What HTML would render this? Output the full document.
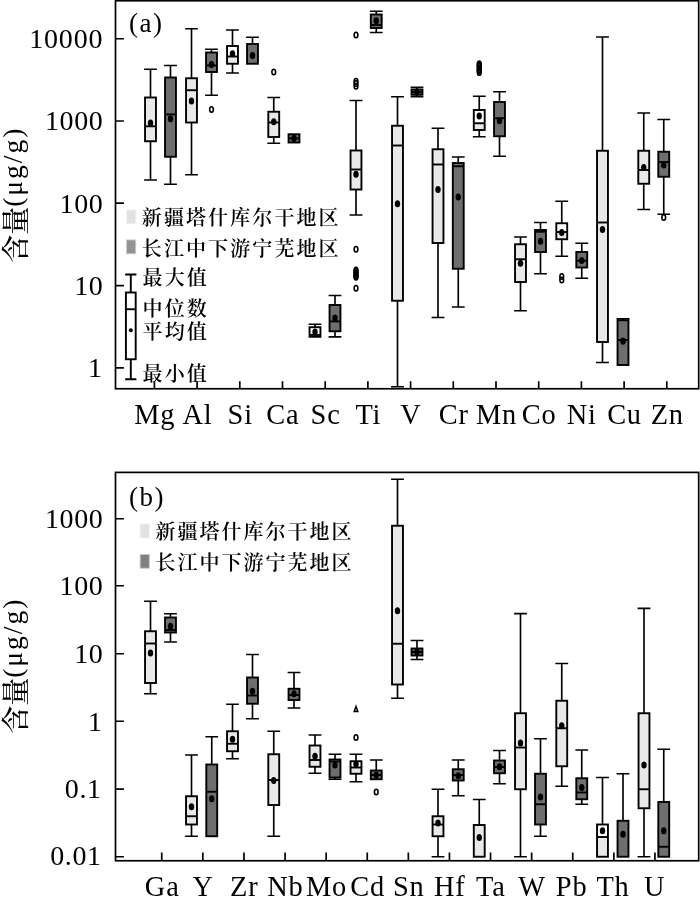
<!DOCTYPE html>
<html lang="zh"><head><meta charset="utf-8"><title>chart</title>
<style>
html,body{margin:0;padding:0;background:#fff}
svg{display:block}
text{font-family:"Liberation Serif","Noto Serif CJK SC",serif;fill:#000}
.w{stroke-width:1.65px}
.f{stroke-width:1.7px}
</style></head><body>
<svg width="700" height="904" viewBox="0 0 700 904">
<rect width="700" height="904" fill="#fff"/>
<g fill="none" stroke="#000" stroke-width="1.9">
<rect class="f" x="115.5" y="0.75" width="583.20" height="388.00"/>
<rect class="f" x="115.5" y="472.4" width="583.20" height="388.35"/>
<path class="f" d="M115.5 38.75h8.4M115.5 121h8.4M115.5 203.2h8.4M115.5 285.7h8.4M115.5 367.9h8.4M115.5 518.75h8.4M115.5 585.75h8.4M115.5 653.75h8.4M115.5 721.25h8.4M115.5 789.1h8.4M115.5 856.75h8.4"/>
<path class="f" d="M154.40 388.75v-7.6M197.10 388.75v-7.6M239.80 388.75v-7.6M282.50 388.75v-7.6M325.20 388.75v-7.6M367.90 388.75v-7.6M410.60 388.75v-7.6M453.30 388.75v-7.6M496.00 388.75v-7.6M538.70 388.75v-7.6M581.40 388.75v-7.6M624.10 388.75v-7.6M666.80 388.75v-7.6M161.75 860.75v-8.2M202.85 860.75v-8.2M243.95 860.75v-8.2M285.05 860.75v-8.2M326.15 860.75v-8.2M367.25 860.75v-8.2M408.35 860.75v-8.2M449.45 860.75v-8.2M490.55 860.75v-8.2M531.65 860.75v-8.2M572.75 860.75v-8.2M613.85 860.75v-8.2M654.95 860.75v-8.2"/>
<!-- chart a boxes -->
<path class="w" d="M144.10 69.25H156.90M150.5 69.25V97.5"/>
<path class="w" d="M144.10 180H156.90M150.5 180V141.25"/>
<rect x="145.05" y="97.5" width="10.9" height="43.75" fill="#e8e8e8"/>
<path d="M145.05 126.3H155.95"/>
<ellipse cx="150.5" cy="123" rx="2.7" ry="3.6" fill="#000" stroke="none"/>
<path class="w" d="M164.10 65.5H176.90M170.5 65.5V77.5"/>
<path class="w" d="M164.10 184.25H176.90M170.5 184.25V156.75"/>
<rect x="165.05" y="77.5" width="10.9" height="79.25" fill="#6e6e6e"/>
<path d="M165.05 114.4H175.95"/>
<ellipse cx="170.5" cy="118.75" rx="2.7" ry="3.6" fill="#000" stroke="none"/>
<path class="w" d="M185.10 28.75H197.90M191.5 28.75V78.25"/>
<path class="w" d="M185.10 174.75H197.90M191.5 174.75V122.5"/>
<rect x="186.05" y="78.25" width="10.9" height="44.25" fill="#e8e8e8"/>
<path d="M186.05 90.2H196.95"/>
<ellipse cx="191.5" cy="101" rx="2.7" ry="3.6" fill="#000" stroke="none"/>
<path class="w" d="M205.10 49.25H217.90M211.5 49.25V52.5"/>
<path class="w" d="M205.10 95.25H217.90M211.5 95.25V72"/>
<rect x="206.05" y="52.5" width="10.9" height="19.50" fill="#6e6e6e"/>
<path d="M206.05 65.5H216.95"/>
<ellipse cx="211.5" cy="64.5" rx="2.7" ry="3.6" fill="#000" stroke="none"/>
<ellipse cx="211.5" cy="109.5" rx="1.85" ry="2.8" fill="none" stroke-width="1.6"/>
<path class="w" d="M226.10 30H238.90M232.5 30V46"/>
<path class="w" d="M226.10 73H238.90M232.5 73V63.75"/>
<rect x="227.05" y="46" width="10.9" height="17.75" fill="#e8e8e8" stroke="none"/>
<rect x="227.05" y="46" width="10.9" height="10.5" fill="#fff" stroke="none"/>
<rect x="227.05" y="46" width="10.9" height="17.75"/>
<path d="M227.05 56.5H237.95"/>
<ellipse cx="232.5" cy="53.75" rx="2.7" ry="3.6" fill="#000" stroke="none"/>
<path class="w" d="M246.10 37.25H258.90M252.5 37.25V44"/>
<rect x="247.05" y="44" width="10.9" height="19.75" fill="#6e6e6e"/>
<ellipse cx="252.5" cy="55.5" rx="2.7" ry="3.6" fill="#000" stroke="none"/>
<path class="w" d="M267.35 97.5H280.15M273.75 97.5V111.75"/>
<path class="w" d="M267.35 143.25H280.15M273.75 143.25V137"/>
<rect x="268.30" y="111.75" width="10.9" height="25.25" fill="#e8e8e8"/>
<path d="M268.30 122.5H279.20"/>
<ellipse cx="273.75" cy="121.75" rx="2.7" ry="3.6" fill="#000" stroke="none"/>
<ellipse cx="273.75" cy="72" rx="1.85" ry="2.8" fill="none" stroke-width="1.6"/>
<rect x="288.55" y="134.25" width="10.9" height="8.25" fill="#6e6e6e"/>
<path d="M288.55 138.4H299.45"/>
<ellipse cx="294" cy="138.4" rx="2.7" ry="3.6" fill="#000" stroke="none"/>
<path class="w" d="M308.60 324.2H321.40M315 324.2V327.2"/>
<path class="w" d="M308.60 336.8H321.40M315 336.8V335"/>
<rect x="309.55" y="327.2" width="10.9" height="7.80" fill="#fff"/>
<ellipse cx="315" cy="332" rx="2.7" ry="3.6" fill="#000" stroke="none"/>
<path class="w" d="M328.60 295.5H341.40M335 295.5V305"/>
<path class="w" d="M328.60 336.9H341.40M335 336.9V331.25"/>
<rect x="329.55" y="305" width="10.9" height="26.25" fill="#6e6e6e"/>
<path d="M329.55 321.4H340.45"/>
<ellipse cx="335" cy="318" rx="2.7" ry="3.6" fill="#000" stroke="none"/>
<path class="w" d="M349.60 100.5H362.40M356 100.5V150.5"/>
<path class="w" d="M349.60 215H362.40M356 215V189.5"/>
<rect x="350.55" y="150.5" width="10.9" height="39.00" fill="#e8e8e8"/>
<path d="M350.55 169.5H361.45"/>
<ellipse cx="356" cy="174.25" rx="2.7" ry="3.6" fill="#000" stroke="none"/>
<ellipse cx="356" cy="35" rx="1.85" ry="2.8" fill="none" stroke-width="1.6"/>
<ellipse cx="356" cy="81.25" rx="1.85" ry="2.8" fill="none" stroke-width="1.6"/>
<ellipse cx="356" cy="83.5" rx="1.85" ry="2.8" fill="none" stroke-width="1.6"/>
<ellipse cx="356" cy="86.25" rx="1.85" ry="2.8" fill="none" stroke-width="1.6"/>
<ellipse cx="356" cy="249.25" rx="1.85" ry="2.8" fill="none" stroke-width="1.6"/>
<ellipse cx="356" cy="270" rx="1.85" ry="2.8" fill="none" stroke-width="1.6"/>
<ellipse cx="356" cy="271.5" rx="1.85" ry="2.8" fill="none" stroke-width="1.6"/>
<ellipse cx="356" cy="273" rx="1.85" ry="2.8" fill="none" stroke-width="1.6"/>
<ellipse cx="356" cy="274.5" rx="1.85" ry="2.8" fill="none" stroke-width="1.6"/>
<ellipse cx="356" cy="276" rx="1.85" ry="2.8" fill="none" stroke-width="1.6"/>
<ellipse cx="356" cy="277.2" rx="1.85" ry="2.8" fill="none" stroke-width="1.6"/>
<ellipse cx="356" cy="288.25" rx="1.85" ry="2.8" fill="none" stroke-width="1.6"/>
<path class="w" d="M369.85 11.25H382.65M376.25 11.25V14.5"/>
<path class="w" d="M369.85 32.5H382.65M376.25 32.5V28"/>
<rect x="370.80" y="14.5" width="10.9" height="13.50" fill="#6e6e6e"/>
<path d="M370.80 25H381.70"/>
<ellipse cx="376.25" cy="20.75" rx="2.7" ry="3.6" fill="#000" stroke="none"/>
<path class="w" d="M391.10 96.75H403.90M397.5 96.75V125.75"/>
<path class="w" d="M391.10 386.75H403.90M397.5 386.75V300.75"/>
<rect x="392.05" y="125.75" width="10.9" height="175.00" fill="#e8e8e8"/>
<path d="M392.05 145.5H402.95"/>
<ellipse cx="397.5" cy="203.75" rx="2.7" ry="3.6" fill="#000" stroke="none"/>
<path class="w" d="M410.60 87.2H423.40M417 87.2V89.4"/>
<path class="w" d="M410.60 96.7H423.40M417 96.7V94.8"/>
<rect x="411.55" y="89.4" width="10.9" height="5.40" fill="#6e6e6e"/>
<path d="M411.55 92.1H422.45"/>
<ellipse cx="417" cy="92.1" rx="2.7" ry="3.6" fill="#000" stroke="none"/>
<path class="w" d="M431.60 128.25H444.40M438 128.25V149.25"/>
<path class="w" d="M431.60 317.5H444.40M438 317.5V243"/>
<rect x="432.55" y="149.25" width="10.9" height="93.75" fill="#e8e8e8"/>
<path d="M432.55 164.5H443.45"/>
<ellipse cx="438" cy="189.5" rx="2.7" ry="3.6" fill="#000" stroke="none"/>
<path class="w" d="M451.85 157H464.65M458.25 157V163"/>
<path class="w" d="M451.85 307H464.65M458.25 307V268.75"/>
<rect x="452.80" y="163" width="10.9" height="105.75" fill="#6e6e6e"/>
<path d="M452.80 166.25H463.70"/>
<ellipse cx="458.25" cy="197" rx="2.7" ry="3.6" fill="#000" stroke="none"/>
<path class="w" d="M472.85 96.25H485.65M479.25 96.25V110"/>
<path class="w" d="M472.85 136.75H485.65M479.25 136.75V130"/>
<rect x="473.80" y="110" width="10.9" height="20.00" fill="#e8e8e8" stroke="none"/>
<rect x="473.80" y="110" width="10.9" height="13.25" fill="#fff" stroke="none"/>
<rect x="473.80" y="110" width="10.9" height="20.00"/>
<path d="M473.80 123.25H484.70"/>
<ellipse cx="479.25" cy="116" rx="2.7" ry="3.6" fill="#000" stroke="none"/>
<ellipse cx="479.25" cy="63.8" rx="1.85" ry="2.8" fill="none" stroke-width="1.6"/>
<ellipse cx="479.25" cy="65.2" rx="1.85" ry="2.8" fill="none" stroke-width="1.6"/>
<ellipse cx="479.25" cy="66.6" rx="1.85" ry="2.8" fill="none" stroke-width="1.6"/>
<ellipse cx="479.25" cy="68" rx="1.85" ry="2.8" fill="none" stroke-width="1.6"/>
<ellipse cx="479.25" cy="69.4" rx="1.85" ry="2.8" fill="none" stroke-width="1.6"/>
<ellipse cx="479.25" cy="70.8" rx="1.85" ry="2.8" fill="none" stroke-width="1.6"/>
<ellipse cx="479.25" cy="72.4" rx="1.85" ry="2.8" fill="none" stroke-width="1.6"/>
<path class="w" d="M493.10 91.75H505.90M499.5 91.75V102"/>
<path class="w" d="M493.10 156.25H505.90M499.5 156.25V136.25"/>
<rect x="494.05" y="102" width="10.9" height="34.25" fill="#6e6e6e"/>
<path d="M494.05 118.25H504.95"/>
<ellipse cx="499.5" cy="120.75" rx="2.7" ry="3.6" fill="#000" stroke="none"/>
<path class="w" d="M514.10 237H526.90M520.5 237V244.25"/>
<path class="w" d="M514.10 310.75H526.90M520.5 310.75V282"/>
<rect x="515.05" y="244.25" width="10.9" height="37.75" fill="#e8e8e8"/>
<path d="M515.05 259.25H525.95"/>
<ellipse cx="520.5" cy="263.25" rx="2.7" ry="3.6" fill="#000" stroke="none"/>
<path class="w" d="M534.10 222.5H546.90M540.5 222.5V230"/>
<path class="w" d="M534.10 273.75H546.90M540.5 273.75V252"/>
<rect x="535.05" y="230" width="10.9" height="22.00" fill="#6e6e6e"/>
<path d="M535.05 231.75H545.95"/>
<ellipse cx="540.5" cy="241.25" rx="2.7" ry="3.6" fill="#000" stroke="none"/>
<path class="w" d="M555.35 201.25H568.15M561.75 201.25V223.25"/>
<path class="w" d="M555.35 256.25H568.15M561.75 256.25V239.25"/>
<rect x="556.30" y="223.25" width="10.9" height="16.00" fill="#e8e8e8" stroke="none"/>
<rect x="556.30" y="223.25" width="10.9" height="8.75" fill="#fff" stroke="none"/>
<rect x="556.30" y="223.25" width="10.9" height="16.00"/>
<path d="M556.30 232H567.20"/>
<ellipse cx="561.75" cy="232.5" rx="2.7" ry="3.6" fill="#000" stroke="none"/>
<ellipse cx="561.75" cy="276.5" rx="1.85" ry="2.8" fill="none" stroke-width="1.6"/>
<ellipse cx="561.75" cy="280" rx="1.85" ry="2.8" fill="none" stroke-width="1.6"/>
<path class="w" d="M575.35 243.25H588.15M581.75 243.25V252"/>
<path class="w" d="M575.35 278.25H588.15M581.75 278.25V267.5"/>
<rect x="576.30" y="252" width="10.9" height="15.50" fill="#6e6e6e"/>
<path d="M576.30 260.75H587.20"/>
<ellipse cx="581.75" cy="260.5" rx="2.7" ry="3.6" fill="#000" stroke="none"/>
<path class="w" d="M596.10 37H608.90M602.5 37V150.75"/>
<path class="w" d="M596.10 362.5H608.90M602.5 362.5V342"/>
<rect x="597.05" y="150.75" width="10.9" height="191.25" fill="#e8e8e8"/>
<path d="M597.05 222.5H607.95"/>
<ellipse cx="602.5" cy="229.5" rx="2.7" ry="3.6" fill="#000" stroke="none"/>
<path class="w" d="M616.60 318.9H629.40M623 318.9V320.3"/>
<rect x="617.55" y="320.3" width="10.9" height="44.70" fill="#6e6e6e"/>
<path d="M617.55 340H628.45"/>
<ellipse cx="623" cy="341.2" rx="2.7" ry="3.6" fill="#000" stroke="none"/>
<path class="w" d="M637.35 113H650.15M643.75 113V150.75"/>
<path class="w" d="M637.35 209.5H650.15M643.75 209.5V183.75"/>
<rect x="638.30" y="150.75" width="10.9" height="33.00" fill="#e8e8e8"/>
<path d="M638.30 170H649.20"/>
<ellipse cx="643.75" cy="167.5" rx="2.7" ry="3.6" fill="#000" stroke="none"/>
<path class="w" d="M657.35 119.5H670.15M663.75 119.5V151.75"/>
<path class="w" d="M657.35 214.25H670.15M663.75 214.25V176.75"/>
<rect x="658.30" y="151.75" width="10.9" height="25.00" fill="#6e6e6e"/>
<path d="M658.30 162H669.20"/>
<ellipse cx="663.75" cy="165" rx="2.7" ry="3.6" fill="#000" stroke="none"/>
<ellipse cx="663.75" cy="217.5" rx="1.85" ry="2.8" fill="none" stroke-width="1.6"/>
<!-- chart b boxes -->
<path class="w" d="M144.10 601.25H156.90M150.5 601.25V631.25"/>
<path class="w" d="M144.10 693.75H156.90M150.5 693.75V683"/>
<rect x="145.05" y="631.25" width="10.9" height="51.75" fill="#e8e8e8"/>
<path d="M145.05 643.5H155.95"/>
<ellipse cx="150.5" cy="653" rx="2.7" ry="3.6" fill="#000" stroke="none"/>
<path class="w" d="M164.10 613.75H176.90M170.5 613.75V617.5"/>
<path class="w" d="M164.10 642H176.90M170.5 642V632.5"/>
<rect x="165.05" y="617.5" width="10.9" height="15.00" fill="#6e6e6e"/>
<path d="M165.05 630H175.95"/>
<ellipse cx="170.5" cy="626.25" rx="2.7" ry="3.6" fill="#000" stroke="none"/>
<path class="w" d="M185.10 755H197.90M191.5 755V796.25"/>
<path class="w" d="M185.10 836.25H197.90M191.5 836.25V824.5"/>
<rect x="186.05" y="796.25" width="10.9" height="28.25" fill="#e8e8e8"/>
<path d="M186.05 816.25H196.95"/>
<ellipse cx="191.5" cy="806.75" rx="2.7" ry="3.6" fill="#000" stroke="none"/>
<path class="w" d="M205.35 736.75H218.15M211.75 736.75V764.5"/>
<rect x="206.30" y="764.5" width="10.9" height="71.75" fill="#6e6e6e"/>
<path d="M206.30 791.75H217.20"/>
<ellipse cx="211.75" cy="798.75" rx="2.7" ry="3.6" fill="#000" stroke="none"/>
<path class="w" d="M226.10 704.25H238.90M232.5 704.25V731.25"/>
<path class="w" d="M226.10 758.75H238.90M232.5 758.75V751.25"/>
<rect x="227.05" y="731.25" width="10.9" height="20.00" fill="#e8e8e8"/>
<path d="M227.05 743.75H237.95"/>
<ellipse cx="232.5" cy="739.25" rx="2.7" ry="3.6" fill="#000" stroke="none"/>
<path class="w" d="M246.10 654.5H258.90M252.5 654.5V677.5"/>
<path class="w" d="M246.10 718.75H258.90M252.5 718.75V703.75"/>
<rect x="247.05" y="677.5" width="10.9" height="26.25" fill="#6e6e6e"/>
<path d="M247.05 695.5H257.95"/>
<ellipse cx="252.5" cy="691.25" rx="2.7" ry="3.6" fill="#000" stroke="none"/>
<path class="w" d="M267.35 731.25H280.15M273.75 731.25V754.25"/>
<path class="w" d="M267.35 836.25H280.15M273.75 836.25V805"/>
<rect x="268.30" y="754.25" width="10.9" height="50.75" fill="#e8e8e8"/>
<path d="M268.30 780H279.20"/>
<ellipse cx="273.75" cy="780.5" rx="2.7" ry="3.6" fill="#000" stroke="none"/>
<path class="w" d="M287.60 672.5H300.40M294 672.5V688.75"/>
<path class="w" d="M287.60 708H300.40M294 708V700"/>
<rect x="288.55" y="688.75" width="10.9" height="11.25" fill="#6e6e6e"/>
<path d="M288.55 695H299.45"/>
<ellipse cx="294" cy="693.75" rx="2.7" ry="3.6" fill="#000" stroke="none"/>
<path class="w" d="M308.60 735H321.40M315 735V745.5"/>
<path class="w" d="M308.60 773.25H321.40M315 773.25V766.75"/>
<rect x="309.55" y="745.5" width="10.9" height="21.25" fill="#e8e8e8"/>
<path d="M309.55 760H320.45"/>
<ellipse cx="315" cy="756.25" rx="2.7" ry="3.6" fill="#000" stroke="none"/>
<path class="w" d="M328.60 754.25H341.40M335 754.25V759.5"/>
<path class="w" d="M328.60 779.25H341.40M335 779.25V777.5"/>
<rect x="329.55" y="759.5" width="10.9" height="18.00" fill="#6e6e6e"/>
<path d="M329.55 761.5H340.45"/>
<ellipse cx="335" cy="765" rx="2.7" ry="3.6" fill="#000" stroke="none"/>
<path class="w" d="M349.60 754.25H362.40M356 754.25V761.25"/>
<path class="w" d="M349.60 781.75H362.40M356 781.75V773.75"/>
<rect x="350.55" y="761.25" width="10.9" height="12.50" fill="#e8e8e8" stroke="none"/>
<rect x="350.55" y="761.25" width="10.9" height="6.25" fill="#fff" stroke="none"/>
<rect x="350.55" y="761.25" width="10.9" height="12.50"/>
<path d="M350.55 767.5H361.45"/>
<ellipse cx="356" cy="764.25" rx="2.7" ry="3.6" fill="#000" stroke="none"/>
<ellipse cx="356" cy="737.5" rx="1.85" ry="2.8" fill="none" stroke-width="1.6"/>
<path class="w" d="M369.85 760H382.65M376.25 760V770.5"/>
<rect x="370.80" y="770.5" width="10.9" height="8.75" fill="#6e6e6e"/>
<path d="M370.80 775H381.70"/>
<ellipse cx="376.25" cy="775" rx="2.7" ry="3.6" fill="#000" stroke="none"/>
<ellipse cx="376.25" cy="792" rx="1.85" ry="2.8" fill="none" stroke-width="1.6"/>
<path class="w" d="M391.10 479.25H403.90M397.5 479.25V525.75"/>
<path class="w" d="M391.10 698.25H403.90M397.5 698.25V684.5"/>
<rect x="392.05" y="525.75" width="10.9" height="158.75" fill="#e8e8e8"/>
<path d="M392.05 643.75H402.95"/>
<ellipse cx="397.5" cy="610.75" rx="2.7" ry="3.6" fill="#000" stroke="none"/>
<path class="w" d="M410.60 640.5H423.40M417 640.5V648.5"/>
<path class="w" d="M410.60 659.5H423.40M417 659.5V655.5"/>
<rect x="411.55" y="648.5" width="10.9" height="7.00" fill="#6e6e6e"/>
<path d="M411.55 652H422.45"/>
<ellipse cx="417" cy="651.75" rx="2.7" ry="3.6" fill="#000" stroke="none"/>
<path class="w" d="M431.60 789.25H444.40M438 789.25V816.25"/>
<path class="w" d="M431.60 856.75H444.40M438 856.75V836.25"/>
<rect x="432.55" y="816.25" width="10.9" height="20.00" fill="#e8e8e8"/>
<path d="M432.55 824.5H443.45"/>
<ellipse cx="438" cy="823" rx="2.7" ry="3.6" fill="#000" stroke="none"/>
<path class="w" d="M451.85 760H464.65M458.25 760V769.25"/>
<path class="w" d="M451.85 795.75H464.65M458.25 795.75V780.5"/>
<rect x="452.80" y="769.25" width="10.9" height="11.25" fill="#6e6e6e"/>
<path d="M452.80 775H463.70"/>
<ellipse cx="458.25" cy="775.75" rx="2.7" ry="3.6" fill="#000" stroke="none"/>
<path class="w" d="M472.85 799.5H485.65M479.25 799.5V825"/>
<rect x="473.80" y="825" width="10.9" height="31.75" fill="#e8e8e8"/>
<ellipse cx="479.25" cy="837.5" rx="2.7" ry="3.6" fill="#000" stroke="none"/>
<path class="w" d="M493.10 750.5H505.90M499.5 750.5V760.5"/>
<path class="w" d="M493.10 783.75H505.90M499.5 783.75V773.25"/>
<rect x="494.05" y="760.5" width="10.9" height="12.75" fill="#6e6e6e"/>
<path d="M494.05 767H504.95"/>
<ellipse cx="499.5" cy="766.75" rx="2.7" ry="3.6" fill="#000" stroke="none"/>
<path class="w" d="M514.10 613.6H526.90M520.5 613.6V713.25"/>
<path class="w" d="M514.10 856.75H526.90M520.5 856.75V789.25"/>
<rect x="515.05" y="713.25" width="10.9" height="76.00" fill="#e8e8e8"/>
<path d="M515.05 747.5H525.95"/>
<ellipse cx="520.5" cy="743" rx="2.7" ry="3.6" fill="#000" stroke="none"/>
<path class="w" d="M534.10 738.75H546.90M540.5 738.75V773.75"/>
<path class="w" d="M534.10 836.25H546.90M540.5 836.25V824.5"/>
<rect x="535.05" y="773.75" width="10.9" height="50.75" fill="#6e6e6e"/>
<path d="M535.05 804.25H545.95"/>
<ellipse cx="540.5" cy="797" rx="2.7" ry="3.6" fill="#000" stroke="none"/>
<path class="w" d="M555.35 663.5H568.15M561.75 663.5V700.75"/>
<path class="w" d="M555.35 786.25H568.15M561.75 786.25V766.25"/>
<rect x="556.30" y="700.75" width="10.9" height="65.50" fill="#e8e8e8"/>
<path d="M556.30 728.25H567.20"/>
<ellipse cx="561.75" cy="725.75" rx="2.7" ry="3.6" fill="#000" stroke="none"/>
<path class="w" d="M575.35 750H588.15M581.75 750V778.25"/>
<path class="w" d="M575.35 804.25H588.15M581.75 804.25V799.25"/>
<rect x="576.30" y="778.25" width="10.9" height="21.00" fill="#6e6e6e"/>
<path d="M576.30 792.5H587.20"/>
<ellipse cx="581.75" cy="787.5" rx="2.7" ry="3.6" fill="#000" stroke="none"/>
<path class="w" d="M596.10 777.5H608.90M602.5 777.5V824.5"/>
<rect x="597.05" y="824.5" width="10.9" height="32.25" fill="#e8e8e8" stroke="none"/>
<rect x="597.05" y="824.5" width="10.9" height="12.5" fill="#fff" stroke="none"/>
<rect x="597.05" y="824.5" width="10.9" height="32.25"/>
<path d="M597.05 837H607.95"/>
<ellipse cx="602.5" cy="830.75" rx="2.7" ry="3.6" fill="#000" stroke="none"/>
<path class="w" d="M616.60 773.75H629.40M623 773.75V820.8"/>
<rect x="617.55" y="820.8" width="10.9" height="35.95" fill="#6e6e6e"/>
<ellipse cx="623" cy="834.25" rx="2.7" ry="3.6" fill="#000" stroke="none"/>
<path class="w" d="M637.60 608.4H650.40M644 608.4V713.25"/>
<path class="w" d="M637.60 856.75H650.40M644 856.75V808.25"/>
<rect x="638.55" y="713.25" width="10.9" height="95.00" fill="#e8e8e8"/>
<path d="M638.55 789.25H649.45"/>
<ellipse cx="644" cy="765" rx="2.7" ry="3.6" fill="#000" stroke="none"/>
<path class="w" d="M657.35 749.25H670.15M663.75 749.25V802"/>
<rect x="658.30" y="802" width="10.9" height="54.75" fill="#6e6e6e"/>
<path d="M658.30 846.75H669.20"/>
<ellipse cx="663.75" cy="830.75" rx="2.7" ry="3.6" fill="#000" stroke="none"/>
<path d="M356 706.5l1.8 5.1h-3.6z" fill="#fff" stroke-width="1.5"/>
<path d="M125.2 274.5H136.4M130.8 274.5V292.5M125.2 379.25H136.4M130.8 379.25V359.25"/>
<rect x="125.9" y="292.5" width="9.8" height="66.75" fill="#fff"/>
<path d="M125.9 309.25H135.7"/>
<circle cx="130.8" cy="330.2" r="2" fill="#000" stroke="none"/>
</g>
<rect x="126.0" y="209.4" width="10.2" height="14.8" fill="#e2e2e2" opacity="0.45"/>
<rect x="127.0" y="210.4" width="8.2" height="12.8" fill="#e2e2e2"/>
<rect x="126.0" y="239.4" width="10.2" height="14.8" fill="#939393" opacity="0.45"/>
<rect x="127.0" y="240.4" width="8.2" height="12.8" fill="#939393"/>
<rect x="139.70000000000002" y="523.6" width="10.2" height="14.8" fill="#e2e2e2" opacity="0.45"/>
<rect x="140.70000000000002" y="524.6" width="8.2" height="12.8" fill="#e2e2e2"/>
<rect x="139.70000000000002" y="554.0" width="10.2" height="14.8" fill="#808080" opacity="0.45"/>
<rect x="140.70000000000002" y="555.0" width="8.2" height="12.8" fill="#808080"/>
<text x="103.4" y="48.05" font-size="28" text-anchor="end" letter-spacing="0.85">10000</text>
<text x="103.4" y="130.3" font-size="28" text-anchor="end" letter-spacing="0.6">1000</text>
<text x="103.4" y="212.5" font-size="28" text-anchor="end" letter-spacing="0.6">100</text>
<text x="103.4" y="295.0" font-size="28" text-anchor="end" letter-spacing="0.6">10</text>
<text x="102.5" y="377.2" font-size="28" text-anchor="end" letter-spacing="0.6">1</text>
<text x="103.4" y="528.35" font-size="28" text-anchor="end" letter-spacing="0.6">1000</text>
<text x="103.4" y="595.35" font-size="28" text-anchor="end" letter-spacing="0.6">100</text>
<text x="103.4" y="663.35" font-size="28" text-anchor="end" letter-spacing="0.6">10</text>
<text x="102.5" y="730.85" font-size="28" text-anchor="end" letter-spacing="0.6">1</text>
<text x="101.60000000000001" y="797.7" font-size="28" text-anchor="end" letter-spacing="0.6">0.1</text>
<text x="101.60000000000001" y="865.35" font-size="28" text-anchor="end" letter-spacing="0.6">0.01</text>
<text x="154.8" y="424.4" font-size="28.4" text-anchor="middle" letter-spacing="0.8">Mg</text>
<text x="197.5" y="424.4" font-size="28.4" text-anchor="middle" letter-spacing="0.8">Al</text>
<text x="240.2" y="424.4" font-size="28.4" text-anchor="middle" letter-spacing="0.8">Si</text>
<text x="282.9" y="424.4" font-size="28.4" text-anchor="middle" letter-spacing="0.8">Ca</text>
<text x="325.6" y="424.4" font-size="28.4" text-anchor="middle" letter-spacing="0.8">Sc</text>
<text x="368.3" y="424.4" font-size="28.4" text-anchor="middle" letter-spacing="0.8">Ti</text>
<text x="411.0" y="424.4" font-size="28.4" text-anchor="middle" letter-spacing="0.8">V</text>
<text x="453.7" y="424.4" font-size="28.4" text-anchor="middle" letter-spacing="0.8">Cr</text>
<text x="496.4" y="424.4" font-size="28.4" text-anchor="middle" letter-spacing="0.8">Mn</text>
<text x="539.1" y="424.4" font-size="28.4" text-anchor="middle" letter-spacing="0.8">Co</text>
<text x="581.8" y="424.4" font-size="28.4" text-anchor="middle" letter-spacing="0.8">Ni</text>
<text x="624.5" y="424.4" font-size="28.4" text-anchor="middle" letter-spacing="0.8">Cu</text>
<text x="667.2" y="424.4" font-size="28.4" text-anchor="middle" letter-spacing="0.8">Zn</text>
<text x="162.2" y="896.2" font-size="28.4" text-anchor="middle" letter-spacing="0.8">Ga</text>
<text x="203.2" y="896.2" font-size="28.4" text-anchor="middle" letter-spacing="0.8">Y</text>
<text x="244.3" y="896.2" font-size="28.4" text-anchor="middle" letter-spacing="0.8">Zr</text>
<text x="285.4" y="896.2" font-size="28.4" text-anchor="middle" letter-spacing="0.8">Nb</text>
<text x="326.5" y="896.2" font-size="28.4" text-anchor="middle" letter-spacing="0.8">Mo</text>
<text x="367.6" y="896.2" font-size="28.4" text-anchor="middle" letter-spacing="0.8">Cd</text>
<text x="408.8" y="896.2" font-size="28.4" text-anchor="middle" letter-spacing="0.8">Sn</text>
<text x="449.8" y="896.2" font-size="28.4" text-anchor="middle" letter-spacing="0.8">Hf</text>
<text x="490.9" y="896.2" font-size="28.4" text-anchor="middle" letter-spacing="0.8">Ta</text>
<text x="532.1" y="896.2" font-size="28.4" text-anchor="middle" letter-spacing="0.8">W</text>
<text x="571.6" y="896.2" font-size="28.4" text-anchor="middle" letter-spacing="0.8">Pb</text>
<text x="613.0" y="896.2" font-size="28.4" text-anchor="middle" letter-spacing="0.8">Th</text>
<text x="654.6" y="896.2" font-size="28.4" text-anchor="middle" letter-spacing="0.8">U</text>
<text x="129" y="32.2" font-size="27" letter-spacing="1.5">(a)</text>
<text x="129" y="505.7" font-size="27" letter-spacing="1.5">(b)</text>
<text x="141.8" y="225.0" font-size="20" letter-spacing="2.1" font-weight="600">新疆塔什库尔干地区</text>
<text x="141.8" y="255.9" font-size="20" letter-spacing="2.1" font-weight="600">长江中下游宁芜地区</text>
<text x="142.6" y="285" font-size="20" letter-spacing="2.1" font-weight="600">最大值</text>
<text x="142.6" y="316.1" font-size="20" letter-spacing="2.1" font-weight="600">中位数</text>
<text x="142.6" y="339" font-size="20" letter-spacing="2.1" font-weight="600">平均值</text>
<text x="142.6" y="381.4" font-size="20" letter-spacing="2.1" font-weight="600">最小值</text>
<text x="155.5" y="538.8" font-size="20" letter-spacing="2.0" font-weight="600">新疆塔什库尔干地区</text>
<text x="155.5" y="570.3" font-size="20" letter-spacing="2.0" font-weight="600">长江中下游宁芜地区</text>
<text transform="translate(24 262.8) rotate(-90)" font-size="27"><tspan dy="1.5" font-size="28" font-weight="500" letter-spacing="0">含量</tspan><tspan dy="-3.5" font-size="27.5" letter-spacing="2">(μg/g)</tspan></text>
<text transform="translate(24 733.8) rotate(-90)" font-size="27"><tspan dy="1.5" font-size="28" font-weight="500" letter-spacing="0">含量</tspan><tspan dy="-3.5" font-size="27.5" letter-spacing="2">(μg/g)</tspan></text>
</svg></body></html>
